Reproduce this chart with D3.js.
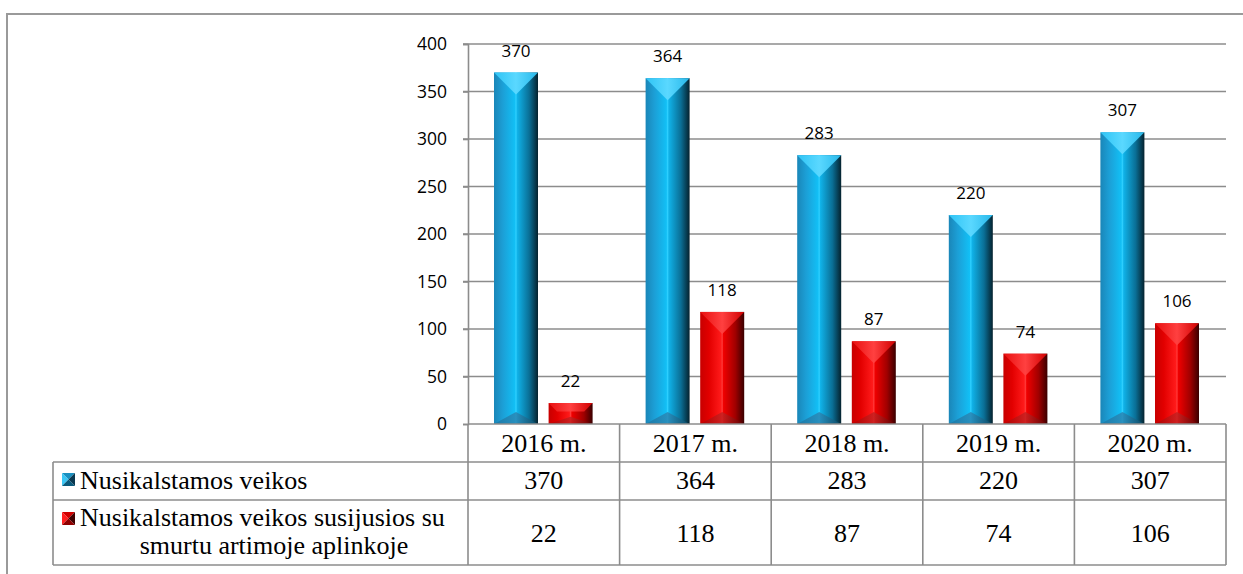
<!DOCTYPE html>
<html><head><meta charset="utf-8">
<script src="https://cdn.jsdelivr.net/npm/d3@7"></script>
<style>body{margin:0;background:#fff}svg{display:block}</style>
</head><body>
<script>
const categories = ["2016 m.", "2017 m.", "2018 m.", "2019 m.", "2020 m."];
const seriesNames = ["Nusikalstamos veikos", "Nusikalstamos veikos susijusios su smurtu artimoje aplinkoje"];
const seriesA = [370, 364, 283, 220, 307];
const seriesB = [22, 118, 87, 74, 106];
const yTicks = [0, 50, 100, 150, 200, 250, 300, 350, 400];

const W = 1243, H = 574;
const svg = d3.select("body").append("svg").attr("width", W).attr("height", H);
const defs = svg.append("defs");
function grad(id, stops) {
  const g = defs.append("linearGradient").attr("id", id).attr("x1", 0).attr("x2", 1).attr("y1", 0).attr("y2", 0);
  stops.forEach(s => g.append("stop").attr("offset", s[0]).attr("stop-color", s[1]));
}
grad("gBlue", [[0, "#1a86b8"], [0.2, "#1c9fd6"], [0.47, "#12bff5"], [0.5, "#2fd0ff"], [0.53, "#10b2e8"], [0.8, "#0a6f96"], [1, "#05222e"]]);
grad("gRed", [[0, "#c80000"], [0.2, "#e20000"], [0.47, "#ff1a1a"], [0.5, "#ff3a3a"], [0.53, "#f00000"], [0.8, "#a00000"], [1, "#3a0000"]]);
grad("gBlueTop", [[0, "#2fc4f5"], [0.5, "#5ad8ff"], [1, "#28b8ea"]]);
grad("gRedTop", [[0, "#e81010"], [0.5, "#ff4040"], [1, "#d00000"]]);
grad("gBlueBot", [[0, "#1a78a6"], [0.5, "#2a8ab8"], [1, "#0c4a66"]]);
grad("gRedBot", [[0, "#b00000"], [0.5, "#c82020"], [1, "#600000"]]);

const gray = "#8c8c8c";
// outer frame
svg.append("path").attr("d", `M7,${H} L7,14 L${W},14`).attr("fill", "none").attr("stroke", "#9a9a9a").attr("stroke-width", 2);

const x0 = 468, x1 = 1226, yTop = 44, yBot = 424;
const x = d3.scaleBand().domain(categories).range([x0, x1]);
const y = d3.scaleLinear().domain([0, 400]).range([yBot, yTop]);

// gridlines
svg.append("g").selectAll("line").data(yTicks.filter(d => d > 0)).join("line")
  .attr("x1", x0 - 5).attr("x2", x1).attr("y1", d => y(d)).attr("y2", d => y(d))
  .attr("stroke", gray).attr("stroke-width", 1.6);

// y axis
const yAxis = svg.append("g").attr("transform", `translate(${x0},0)`)
  .call(d3.axisLeft(y).tickValues(yTicks).tickSize(5).tickPadding(16));
yAxis.select(".domain").attr("stroke", gray).attr("stroke-width", 1.6);
yAxis.selectAll(".tick line").attr("stroke", gray).attr("stroke-width", 1.6);
yAxis.selectAll("text").attr("font-family", "'Open Sans', sans-serif").attr("font-size", 17.5).attr("fill", "#000");

const bw = 44;
function drawBar(g, cx, v, side, blue) {
  const bx = side === 0 ? cx + 26 : cx + x.bandwidth() - 27 - bw;
  const by = y(v), bh = yBot - by;
  g.append("rect").attr("x", bx).attr("y", by).attr("width", bw).attr("height", bh)
    .attr("fill", blue ? "url(#gBlue)" : "url(#gRed)");
  const dt = Math.min(bw / 2, bh * 0.4);
  g.append("polygon").attr("points", [[bx, by], [bx + bw, by], [bx + bw - dt, by + dt], [bx + dt, by + dt]].map(p => p.join(",")).join(" "))
    .attr("fill", blue ? "url(#gBlueTop)" : "url(#gRedTop)");
  const db = Math.min(12, bh * 0.35);
  g.append("polygon").attr("points", [[bx, yBot], [bx + bw, yBot], [bx + bw / 2, yBot - db]].map(p => p.join(",")).join(" "))
    .attr("fill", blue ? "url(#gBlueBot)" : "url(#gRedBot)").attr("opacity", 0.9);
  g.append("text").attr("x", bx + bw / 2).attr("y", by - 16).attr("text-anchor", "middle")
    .attr("font-family", "'Open Sans', sans-serif").attr("font-size", 17).attr("fill", "#000").text(v);
}
const bars = svg.append("g");
categories.forEach((c, i) => {
  drawBar(bars, x(c), seriesA[i], 0, true);
  drawBar(bars, x(c), seriesB[i], 1, false);
});

// data table
const tL = 53, r0 = 424, r1 = 462, r2 = 500, r3 = 565;
const tg = svg.append("g").attr("stroke", gray).attr("stroke-width", 1.6);
tg.append("line").attr("x1", x0).attr("x2", x1).attr("y1", r0).attr("y2", r0);
[r1, r2, r3].forEach(r => tg.append("line").attr("x1", tL).attr("x2", x1).attr("y1", r).attr("y2", r));
tg.append("line").attr("x1", tL).attr("x2", tL).attr("y1", r1).attr("y2", r3);
categories.forEach(c => tg.append("line").attr("x1", x(c)).attr("x2", x(c)).attr("y1", r0).attr("y2", r3));
tg.append("line").attr("x1", x1).attr("x2", x1).attr("y1", r0).attr("y2", r3);

const serif = "'Liberation Serif', 'Times New Roman', serif";
const tt = svg.append("g").attr("font-family", serif).attr("font-size", 26).attr("fill", "#000").attr("text-anchor", "middle");
categories.forEach((c, i) => {
  const cx = x(c) + x.bandwidth() / 2;
  tt.append("text").attr("x", cx).attr("y", 452).text(c);
  tt.append("text").attr("x", cx).attr("y", 489).text(seriesA[i]);
  tt.append("text").attr("x", cx).attr("y", 542).text(seriesB[i]);
});

// legend icons
function icon(ix, iy, blue) {
  const s = 13, g = svg.append("g");
  const c = blue ? ["#1a90c0", "#0a3850", "#3cc6f4", "#0a5a7c"] : ["#d00000", "#400000", "#ff2020", "#900000"];
  const m = [ix + s / 2, iy + s / 2];
  g.append("polygon").attr("points", [[ix, iy], [ix + s, iy], m].map(p => p.join(",")).join(" ")).attr("fill", c[0]);
  g.append("polygon").attr("points", [[ix + s, iy], [ix + s, iy + s], m].map(p => p.join(",")).join(" ")).attr("fill", c[1]);
  g.append("polygon").attr("points", [[ix, iy], [ix, iy + s], m].map(p => p.join(",")).join(" ")).attr("fill", c[2]);
  g.append("polygon").attr("points", [[ix, iy + s], [ix + s, iy + s], m].map(p => p.join(",")).join(" ")).attr("fill", c[3]);
}
icon(62, 473, true);
icon(62, 512, false);
const lt = svg.append("g").attr("font-family", serif).attr("font-size", 26).attr("fill", "#000");
lt.append("text").attr("x", 80).attr("y", 489).text(seriesNames[0]);
lt.append("text").attr("x", 80).attr("y", 526).text("Nusikalstamos veikos susijusios su");
lt.append("text").attr("x", 274).attr("y", 554).attr("text-anchor", "middle").text("smurtu artimoje aplinkoje");
</script>
</body></html>
